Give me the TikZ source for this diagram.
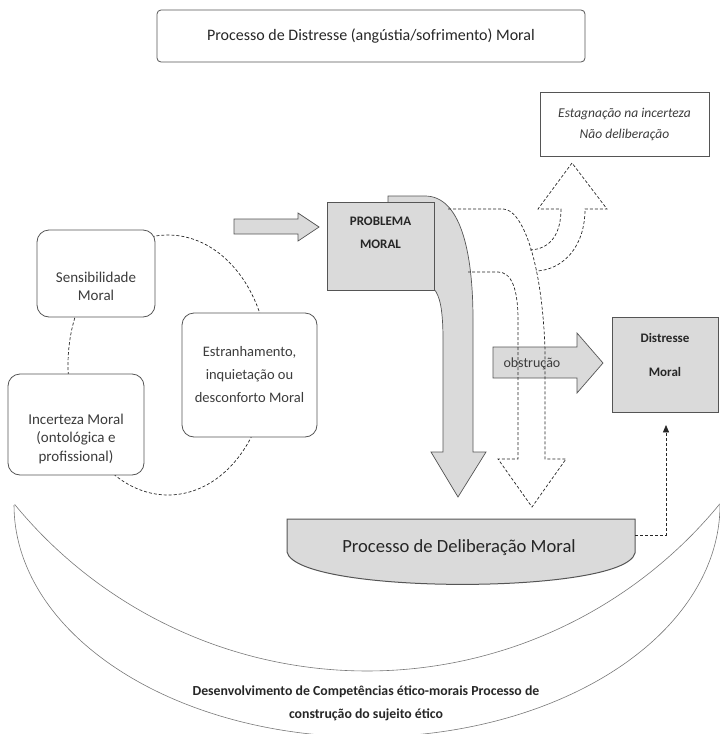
\documentclass[tikz,border=0pt]{standalone}
\usepackage{fontspec}
\setmainfont{Carlito}
\usetikzlibrary{arrows,shapes}
\definecolor{boxgray}{RGB}{218,218,218}
\definecolor{edgegray}{RGB}{85,85,85}
\definecolor{txtgray}{RGB}{60,60,60}
\definecolor{arcgray}{RGB}{120,120,120}

\begin{document}
\begin{tikzpicture}[x=1pt, y=-1pt, >=triangle 45,
  roundbox/.style={draw=edgegray, line width=0.8pt, fill=white, rounded corners=12pt, inner sep=0pt},
  graybox/.style={draw=edgegray, line width=0.8pt, fill=boxgray, inner sep=0pt},
  blockarrow/.style={draw=edgegray, line width=0.7pt, fill=boxgray},
  dasharrow/.style={draw=black!85, dash pattern=on 3pt off 2pt, line width=0.7pt},
  arcline/.style={draw=arcgray, line width=0.6pt},
  lbl/.style={align=center, text=txtgray, font=\fontsize{15}{18.5}\selectfont},
  boldlbl/.style={align=center, text=black!85, font=\bfseries\fontsize{13}{23}\selectfont}]

\useasboundingbox (0,0) rectangle (720,734);

% crescent at the bottom
\draw[arcline] plot[domain=0:180, samples=90, smooth] ({367+353*cos(\x)},{505+232*sin(\x)});
\draw[arcline] plot[domain=39.3:140.6, samples=90, smooth] ({367+456*cos(\x)},{215+456*sin(\x)});
\node[align=center, text=black!85, font=\bfseries\fontsize{13.8}{23}\selectfont] (desenv) at (366,703.5)
  {Desenvolvimento de Competências ético-morais Processo de\\construção do sujeito ético};

% dashed cycle round the three boxes
\draw[dasharrow] (168,365) ellipse [x radius=100pt, y radius=130pt];

% left boxes
\node[roundbox, minimum width=118pt, minimum height=87pt] (sens) at (96,273.5) {};
\node[lbl] (senst) at ([yshift=-13pt]sens.center) {Sensibilidade\\Moral};
\node[roundbox, minimum width=136pt, minimum height=101pt] (incert) at (76,424.5) {};
\node[lbl] (incertt) at ([yshift=-14pt]incert.center) {Incerteza Moral\\(ontológica e\\profissional)};
\node[roundbox, lbl, minimum width=135pt, minimum height=124pt, font=\fontsize{14.5}{23}\selectfont] (estr) at (249.5,375)
  {Estranhamento,\\inquietação ou\\desconforto Moral};

% arrow into the problem
\draw[blockarrow] (234,219) -- (298,219) -- (298,213) -- (319,227) -- (298,241) -- (298,234) -- (234,234) -- cycle;

% bent arrow down to the deliberation
\draw[blockarrow] (388,196) -- (425,196) .. controls (460,196) and (473,250) .. (473,320) -- (473,452)
  -- (486,452) -- (458,497) -- (431,452) -- (443,452) -- (443,340) .. controls (443,310) and (440,296) .. (434,289)
  -- (388,289) -- cycle;

% problem box
\node[graybox, minimum width=107pt, minimum height=88pt] (prob) at (380.5,246) {};
\node[boldlbl] (probt) at ([yshift=13pt]prob.center) {PROBLEMA\\MORAL};

% obstruction arrow
\draw[blockarrow] (493,347) -- (577,347) -- (577,333) -- (603,363) -- (577,393) -- (577,378) -- (493,378) -- cycle;
\node[lbl, anchor=west, font=\fontsize{14}{18}\selectfont] (obst) at (500,364) {obstrução};

% dashed arrows (bypass down, stagnation up)
\draw[dasharrow] (448,209) -- (503,209) .. controls (522,209) and (542,260) .. (545,350) -- (545,459)
  -- (566,459) -- (532,507) -- (498,459) -- (518,459) -- (518,320) .. controls (518,290) and (512,272) .. (498,272)
  -- (468,272);
\draw[dasharrow] (530,250) .. controls (552,249) and (561,232) .. (561,209) -- (538,209) -- (572,163)
  -- (607,209) -- (585,209) .. controls (585,248) and (562,270) .. (536,271);

% distress box
\node[graybox, minimum width=106pt, minimum height=95pt] (dist) at (665,364.5) {};
\node[boldlbl, font=\bfseries\fontsize{13}{34}\selectfont] (distt) at ([yshift=10pt]dist.center) {Distresse\\Moral};

% stagnation box
\node[draw=edgegray, line width=0.8pt, minimum width=169pt, minimum height=64pt, inner sep=0pt,
  align=center, text=txtgray, font=\itshape\fontsize{13.5}{21}\selectfont] (stag) at (624.5,124)
  {Estagnação na incerteza\\Não deliberação};

% deliberation
\draw[blockarrow, line width=1pt] (287,519) -- (635,519) -- (635,553) .. controls (625,595) and (297,595) .. (287,552) -- cycle;
\node[text=black!85, font=\fontsize{18.6}{22}\selectfont] (delib) at (459,548) {Processo de Deliberação Moral};
\coordinate (delibR) at (635,535);
\coordinate (distIn) at (666,425);
\draw[dasharrow, ->] (delibR) -| (distIn);

% title
\node[draw=edgegray, line width=0.8pt, rounded corners=4pt, minimum width=428pt, minimum height=52pt,
  text=black!85, font=\fontsize{16}{19}\selectfont] (title) at (371,36) {Processo de Distresse (angústia/sofrimento) Moral};

\end{tikzpicture}
\end{document}
